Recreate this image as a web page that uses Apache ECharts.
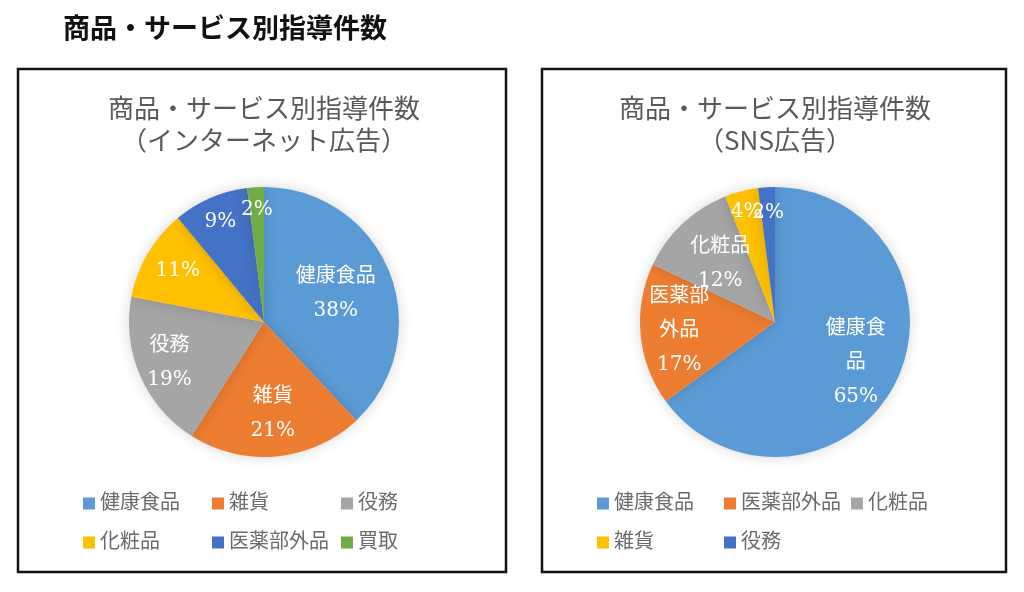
<!DOCTYPE html>
<html>
<head>
<meta charset="utf-8">
<script src="https://cdn.jsdelivr.net/npm/echarts@6/dist/echarts.min.js"></script>
<style>
  html, body { margin: 0; padding: 0; background: #fff; }
  #chart { width: 1024px; height: 592px; }
</style>
</head>
<body>
<div id="chart"></div>
<script>
// ---- data ----
const pageTitle = '商品・サービス別指導件数';
const leftTitle = '商品・サービス別指導件数\n（インターネット広告）';
const rightTitle = '商品・サービス別指導件数\n（SNS広告）';

const leftNames = ['健康食品', '雑貨', '役務', '化粧品', '医薬部外品', '買取'];
const leftValues = [38, 21, 19, 11, 9, 2];
const leftShowName = [true, true, true, false, false, false];

const rightNames = ['健康食品', '医薬部外品', '化粧品', '雑貨', '役務'];
const rightValues = [65, 17, 12, 4, 2];
const rightShowName = [true, true, true, false, false];

// ---- styles ----
const palette = ['#5B9BD5', '#ED7D31', '#A5A5A5', '#FFC000', '#4472C4', '#70AD47'];
const leftLabelRatio = [0.55, 0.66, 0.74, 0.72, 0.79, 0.81];
const rightLabelRatio = [0.65, 0.69, 0.57, 0.82, 0.79];
const R = 135;
const leftCenter = [264, 322];
const rightCenter = [775, 322];
const labelFont = '"DejaVu Serif", "Noto Sans CJK JP", serif';
const legendFont = '"Liberation Serif", "Noto Sans CJK JP", serif';
const titleFont = '"Noto Sans CJK JP", sans-serif';

function labelShifts(values, ratios) {
  const total = values.reduce((a, b) => a + b, 0);
  let acc = 0;
  return values.map((v, i) => {
    const mid = (acc + v / 2) / total * 2 * Math.PI;
    acc += v;
    const k = (ratios[i] - 0.5) * R;
    return [k * Math.sin(mid), -k * Math.cos(mid)];
  });
}
const leftShift = labelShifts(leftValues, leftLabelRatio);
const rightShift = labelShifts(rightValues, rightLabelRatio);

function pieData(names, values, showName) {
  return names.map((n, i) => ({
    name: n,
    value: values[i],
    itemStyle: { color: palette[i] },
    label: { formatter: showName[i] ? '{b}\n{d}%' : '{d}%' }
  }));
}

function legendData(names) {
  return names.map((n, i) => ({ name: n, itemStyle: { color: palette[i] } }));
}

function pieSeries(names, values, showName, center, shifts, labelWidth) {
  return {
    type: 'pie',
    center: center,
    radius: R,
    startAngle: 90,
    clockwise: true,
    data: pieData(names, values, showName),
    itemStyle: { borderWidth: 0, shadowBlur: 14, shadowColor: 'rgba(0,0,0,0.16)' },
    label: {
      show: true,
      position: 'inside',
      color: '#fff',
      fontSize: 20,
      fontFamily: labelFont,
      lineHeight: 34,
      width: labelWidth,
      overflow: 'break'
    },
    labelLine: { show: false },
    labelLayout: function (p) {
      const s = shifts[p.dataIndex];
      return { dx: s[0], dy: s[1] };
    },
    emphasis: { disabled: true },
    animation: false
  };
}

function legendOpt(names, left, colWidth) {
  return {
    data: legendData(names),
    left: left,
    top: 479,
    width: colWidth * 3,
    orient: 'horizontal',
    itemGap: 0,
    itemWidth: 12,
    itemHeight: 12,
    icon: 'rect',
    selectedMode: false,
    textStyle: {
      fontSize: 20,
      fontFamily: legendFont,
      color: '#6b6b6b',
      width: colWidth - 17,
      lineHeight: 39,
      padding: [0, 0, 0, 0]
    }
  };
}

const chart = echarts.init(document.getElementById('chart'));
chart.setOption({
  backgroundColor: '#fff',
  animation: false,
  graphic: [
    { type: 'rect', shape: { x: 18, y: 69, width: 488, height: 503 }, style: { fill: 'none', stroke: '#111', lineWidth: 2.5 }, z: 100 },
    { type: 'rect', shape: { x: 542, y: 69, width: 464, height: 503 }, style: { fill: 'none', stroke: '#111', lineWidth: 2.5 }, z: 100 },
    { type: 'text', x: 63, y: 28, style: { text: pageTitle, font: 'bold 27px ' + titleFont, fill: '#111', textAlign: 'left', textVerticalAlign: 'middle' } },
    { type: 'text', x: 264, y: 124, style: { text: leftTitle, font: '26px ' + titleFont, fill: '#595959', textAlign: 'center', textVerticalAlign: 'middle', lineHeight: 32 } },
    { type: 'text', x: 775, y: 124, style: { text: rightTitle, font: '26px ' + titleFont, fill: '#595959', textAlign: 'center', textVerticalAlign: 'middle', lineHeight: 32 } }
  ],
  legend: [
    legendOpt(leftNames, 78, 129),
    legendOpt(rightNames, 592, 127)
  ],
  series: [
    pieSeries(leftNames, leftValues, leftShowName, leftCenter, leftShift, 90),
    pieSeries(rightNames, rightValues, rightShowName, rightCenter, rightShift, 62)
  ]
});
</script>
</body>
</html>
